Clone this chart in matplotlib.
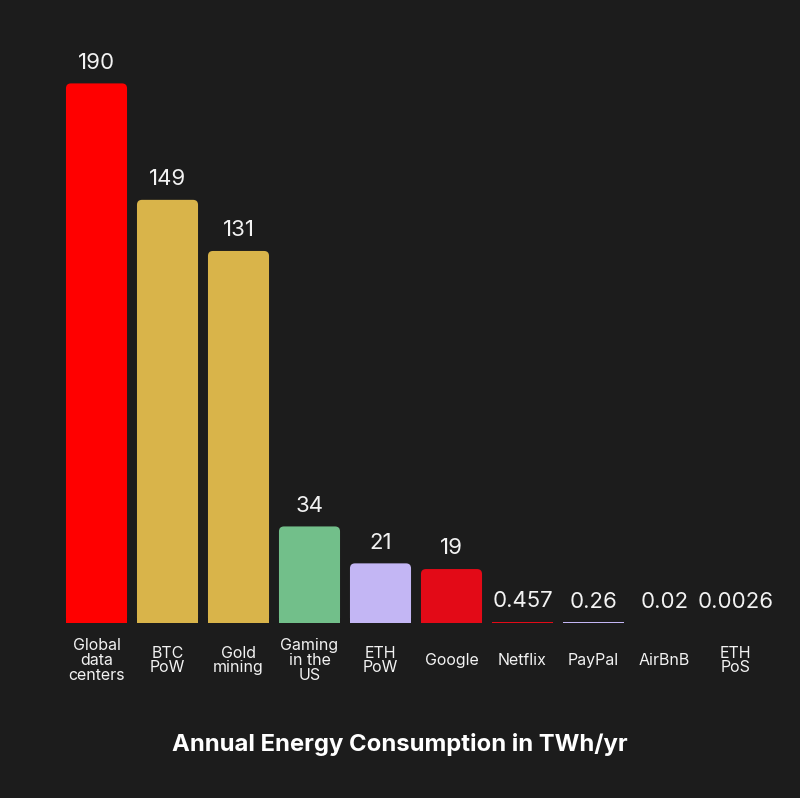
import matplotlib.pyplot as plt
from matplotlib.patches import FancyBboxPatch, Rectangle

plt.rcParams['font.family'] = ['Inter', 'DejaVu Sans']

categories = ["Global\ndata\ncenters", "BTC\nPoW", "Gold\nmining", "Gaming\nin the\nUS",
              "ETH\nPoW", "Google", "Netflix", "PayPal", "AirBnB", "ETH\nPoS"]
values = [190, 149, 131, 34, 21, 19, 0.457, 0.26, 0.02, 0.0026]
value_labels = ["190", "149", "131", "34", "21", "19", "0.457", "0.26", "0.02", "0.0026"]
colors = ["#ff0000", "#d9b44a", "#d9b44a", "#72bf8a", "#c3b6f4",
          "#e30a17", "#e30a17", "#c3b6f4", "#d9b44a", "#c3b6f4"]

bg = "#1c1c1c"
fig = plt.figure(figsize=(8, 7.98), dpi=100, facecolor=bg)
ax = fig.add_axes([61/800, 175/798, 710/800, 568/798])
ax.set_facecolor(bg)
ax.set_xlim(-0.5, len(values) - 0.5)
ax.set_ylim(0, 200)
ax.axis('off')

w = 0.86
rad_x = 5/71.0
aspect = (5/2.84) / rad_x
for i, v in enumerate(values):
    if v > 5:
        p = FancyBboxPatch((i - w/2 + rad_x, rad_x*aspect), w - 2*rad_x, v - 2*rad_x*aspect,
                           boxstyle="round,pad=%f" % rad_x, mutation_aspect=aspect,
                           facecolor=colors[i], edgecolor='none')
        ax.add_patch(p)
        ax.add_patch(Rectangle((i - w/2, 0), w, v/2, facecolor=colors[i], edgecolor='none'))
    else:
        ax.bar(i, v, width=w, color=colors[i], linewidth=0)
    ax.annotate(value_labels[i], (i, v), xytext=(0, 10.5), textcoords='offset points',
                ha='center', va='baseline', fontsize=16, color='#f2f2f2')
    ax.annotate(categories[i], (i, 0), xytext=(0, -27), textcoords='offset points',
                ha='center', va='center', fontsize=11.5, color='#f2f2f2', linespacing=0.98)

fig.text(0.5, 1 - 745/798, "Annual Energy Consumption in TWh/yr", ha='center', va='center',
         fontsize=17.2, fontweight='bold', color='white')

fig.savefig("out.png", dpi=100, facecolor=bg)
